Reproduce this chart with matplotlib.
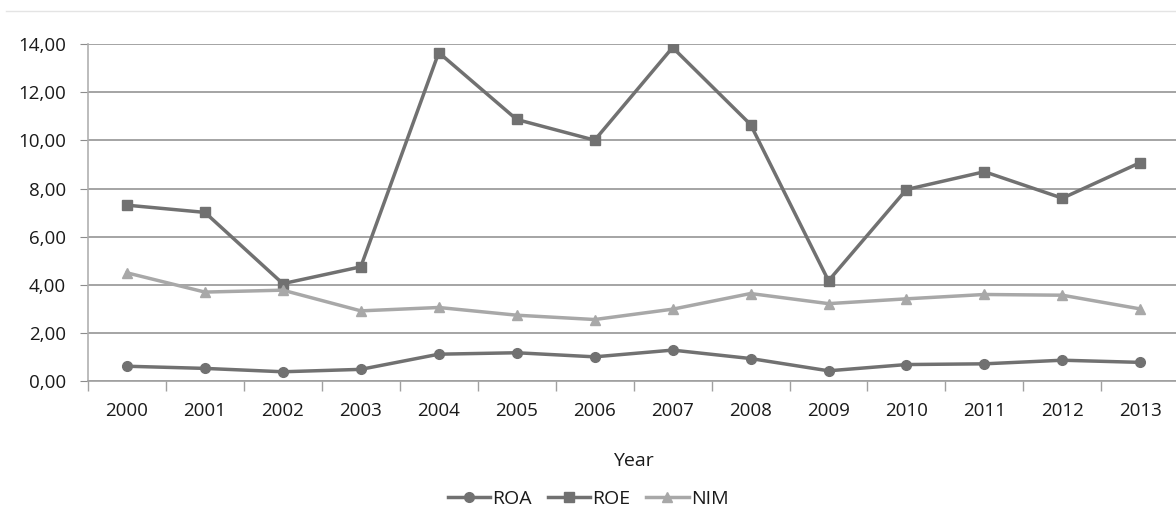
import matplotlib
matplotlib.use("Agg")
import matplotlib.pyplot as plt
from matplotlib.lines import Line2D
from matplotlib.ticker import FuncFormatter, FixedLocator
import numpy as np

plt.rcParams['font.family'] = ['Open Sans', 'DejaVu Sans']

years = ['2000', '2001', '2002', '2003', '2004', '2005', '2006',
         '2007', '2008', '2009', '2010', '2011', '2012', '2013']
roa = [0.62, 0.53, 0.39, 0.49, 1.12, 1.18, 1.01, 1.29, 0.94, 0.43, 0.69, 0.72, 0.87, 0.78]
roe = [7.31, 7.01, 4.05, 4.75, 13.65, 10.87, 10.01, 13.86, 10.66, 4.17, 7.96, 8.70, 7.60, 9.08]
nim = [4.50, 3.70, 3.78, 2.92, 3.06, 2.74, 2.56, 2.99, 3.64, 3.22, 3.42, 3.60, 3.57, 3.00]

dark = '#717171'
light = '#a8a8a8'
txt = '#1a1a1a'

fig = plt.figure(figsize=(11.76, 5.13), dpi=100)
ax = fig.add_axes([0.0748, 0.257, 0.928, 0.657])

x = np.arange(len(years))
ax.plot(x, roa, color=dark, lw=2.5, marker='o', ms=7, label='ROA')
ax.plot(x, roe, color=dark, lw=2.5, marker='s', ms=7, label='ROE')
ax.plot(x, nim, color=light, lw=2.5, marker='^', ms=7, label='NIM')

ax.set_xlim(-0.5, len(years) - 0.5)
ax.set_ylim(0, 14)
ax.set_yticks(np.arange(0, 15, 2))
ax.yaxis.set_major_formatter(FuncFormatter(lambda v, p: f'{v:.2f}'.replace('.', ',')))
ax.grid(axis='y', color='#8c8c8c', lw=1.1)
ax.set_axisbelow(True)

ax.set_xticks(x)
ax.set_xticklabels(years)
ax.xaxis.set_minor_locator(FixedLocator(np.arange(-0.5, len(years), 1)))
ax.tick_params(axis='x', which='major', length=0, pad=15, labelsize=13.5, colors=txt)
ax.tick_params(axis='x', which='minor', length=7, color='#a0a0a0', width=1)
ax.tick_params(axis='y', length=6, color='#8c8c8c', labelsize=13.5, colors=txt, pad=10)

for s in ['top', 'right']:
    ax.spines[s].set_visible(False)
ax.spines['left'].set_color('#b0b0b0')
ax.spines['left'].set_linewidth(1.2)
ax.spines['bottom'].set_color('#a0a0a0')
ax.spines['bottom'].set_linewidth(1.2)

ax.set_xlabel('Year', fontsize=14, labelpad=23, color=txt)

fig.legend(loc='center', bbox_to_anchor=(0.5, 0.028), ncol=3, frameon=False,
           fontsize=14, handlelength=2.2, columnspacing=0.8, handletextpad=0.1,
           labelcolor=txt)

fig.add_artist(Line2D([0.005, 1.0], [1 - 11 / 513, 1 - 11 / 513], color='#e4e4e4', lw=1))

fig.savefig('out.png', dpi=100)
